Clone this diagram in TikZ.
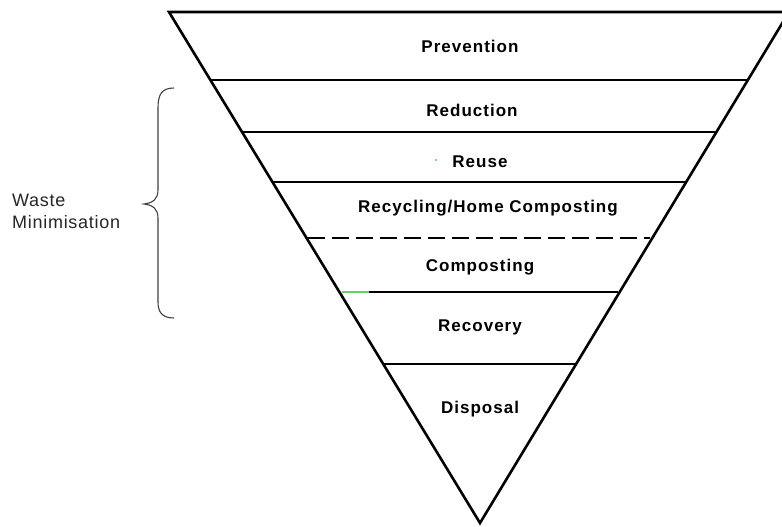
\documentclass[tikz,border=0pt]{standalone}
\usepackage{fontspec}
\setmainfont{Liberation Sans}
\newfontfamily\tierfont{Liberation Sans}[LetterSpace=6]
\newfontfamily\sidefont{Liberation Sans}[LetterSpace=4]
\begin{document}
\begin{tikzpicture}[x=1pt,y=-1pt,
  edge/.style={line width=2.6pt,black},
  tierline/.style={line width=2.6pt,black},
  splitline/.style={line width=2.2pt,black,dash pattern=on 17pt off 7pt},
  tier/.style={anchor=base,inner sep=0pt,font=\tierfont\bfseries\fontsize{17}{19}\selectfont,text=black},
  bracket/.style={line width=1.1pt,black!75}]
\useasboundingbox (0,0) rectangle (782,527);
\fill[white] (0,0) rectangle (782,527);
\begin{scope}
\clip (0,0) rectangle (782,527);
% the inverted triangle
\coordinate (tl) at (169,12);
\coordinate (tr) at (789,12);
\coordinate (apex) at (480,523);
\draw[edge,line join=miter] (tr) -- (tl) -- (apex) -- cycle;
\end{scope}
% tier boundaries
\draw[tierline] (210.4,80) -- (748,80);
\draw[tierline] (242,132) -- (716.6,132);
\draw[tierline] (272.5,182) -- (686.4,182);
\draw[splitline] (308,238) -- (650,238);
\draw[tierline] (342,292) -- (618,292);
\draw[green!70!black!60!white,line width=2.4pt] (342,292) -- (369,292);
\draw[tierline] (383,364) -- (576,364);
\fill[green!80!black] (436,160) circle (0.9pt);
% tier labels
\node[tier] (prevention) at (470,53) {Prevention};
\node[tier] (reduction) at (472,116) {Reduction};
\node[tier] (reuse) at (480,167) {Reuse};
\node[tier] (recycling) at (488,212) {Recycling/Home Composting};
\node[tier] (composting) at (480,271) {Composting};
\node[tier] (recovery) at (480,331) {Recovery};
\node[tier] (disposal) at (480,413) {Disposal};
% waste minimisation bracket
\draw[bracket] (174,88) .. controls (162,88) and (158,94) .. (158,108)
  -- (158,190) .. controls (158,199) and (153,203) .. (144,204)
  .. controls (153,205) and (158,209) .. (158,218)
  -- (158,302) .. controls (158,312) and (162,318) .. (174,318);
\node[anchor=base west,inner sep=0pt,align=left,font=\sidefont\fontsize{18}{22}\selectfont,text=black!85] (minimisation) at (12,228) {Waste\\Minimisation};
\end{tikzpicture}
\end{document}
